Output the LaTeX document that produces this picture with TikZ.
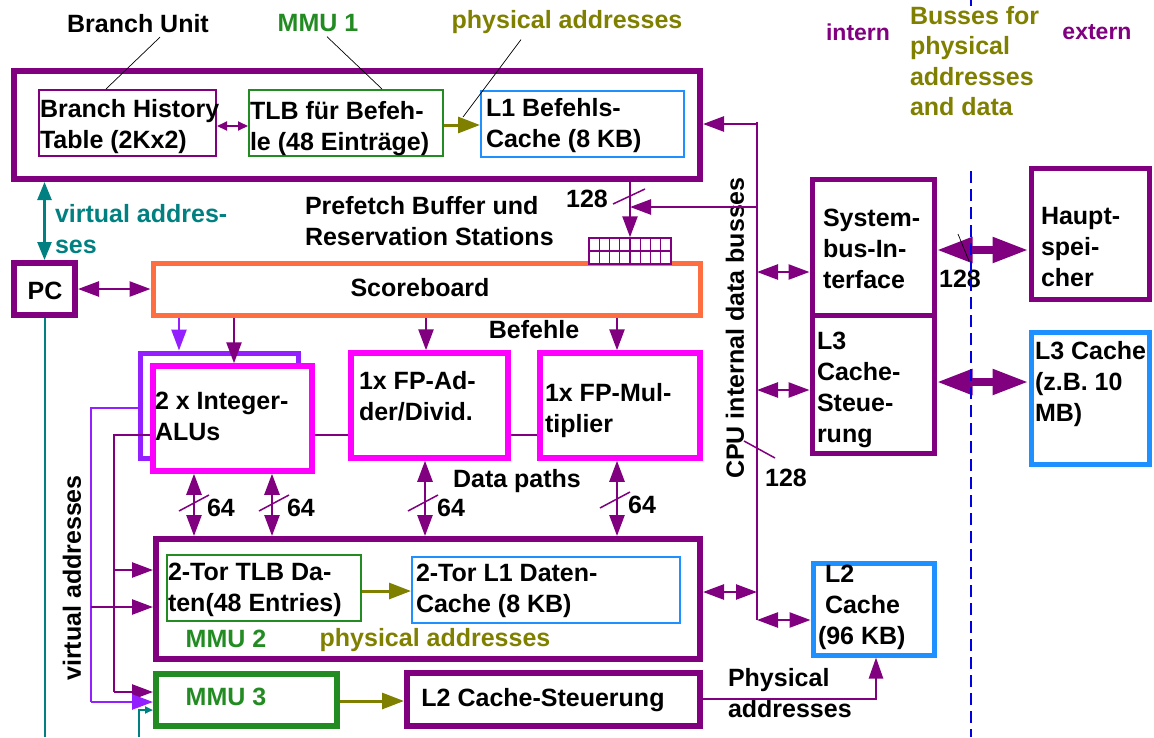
\documentclass[tikz,border=0pt]{standalone}
\usepackage{fontspec}
\setmainfont{Liberation Sans}
\usetikzlibrary{arrows.meta}
\definecolor{pur}{HTML}{800080}
\definecolor{mag}{HTML}{FF00FF}
\definecolor{vio}{HTML}{9420FF}
\definecolor{org}{HTML}{FF6E40}
\definecolor{grn}{HTML}{228B22}
\definecolor{blu}{HTML}{1E90FF}
\definecolor{olv}{HTML}{808000}
\definecolor{tel}{HTML}{008080}
\definecolor{dsh}{HTML}{0000E0}

% frame from line-centre corners: style, x1, y1, x2, y2, name
\newcommand\mkbox[6]{\node[#1, minimum width={#4-#2}, minimum height={#5-#3}] (#6) at ({(#2+#4)/2},{(#3+#5)/2}) {};}

\tikzset{
  lbl/.style={inner sep=0pt, outer sep=0pt},
  blk/.style={inner sep=0pt, outer sep=0pt, align=left, anchor=north west},
  frm/.style={draw, rectangle, inner sep=0pt},
  heavy/.style={frm, line width=5.5pt},
  light/.style={frm, line width=2pt},
  pa/.style={pur, line width=2.5pt, -{Triangle[length=21pt,width=15pt]}},
  pd/.style={pur, line width=2.5pt, {Triangle[length=21pt,width=15pt]}-{Triangle[length=21pt,width=15pt]}},
  va/.style={vio, line width=2.5pt, -{Triangle[length=21pt,width=15pt]}},
  oa/.style={olv, line width=3pt, -{Triangle[length=22pt,width=16pt]}},
  bigd/.style={pur, line width=8pt, {Triangle[length=36pt,width=24pt]}-{Triangle[length=36pt,width=24pt]}},
  wire/.style={pur, line width=2pt},
  vwire/.style={vio, line width=2pt},
  leader/.style={black, line width=0.7pt},
  slash/.style={pur, line width=1.5pt},
}

\begin{document}
\begin{tikzpicture}[x=1pt,y=-1pt,font=\fontsize{25}{31}\selectfont\bfseries]
\fill[white] (0,0) rectangle (1154,737);
\useasboundingbox (0,0) rectangle (1154,737);

% ---------- frames ----------
\mkbox{heavy,draw=pur,line width=6pt}{14}{71}{700}{179}{bu}
\mkbox{light,draw=pur}{39}{90}{216}{156}{bht}
\mkbox{light,draw=grn}{249}{90}{443}{156}{tlbi}
\mkbox{light,draw=blu}{481}{91}{684}{157}{l1i}
\mkbox{heavy,draw=pur,line width=6pt}{14}{263}{75}{315}{pc}
\mkbox{heavy,draw=org,line width=5pt}{153}{263}{700}{315}{sb}
\mkbox{frm,draw=pur,line width=1.5pt,fill=white}{589}{238}{671}{264}{pf}
\mkbox{heavy,draw=vio,line width=5pt}{140}{353}{298}{458}{into}
\mkbox{heavy,draw=mag,fill=white}{153}{366}{312}{471}{inti}
\mkbox{heavy,draw=mag}{351}{353}{508}{458}{fpa}
\mkbox{heavy,draw=mag}{540}{353}{700}{458}{fpm}
\mkbox{heavy,draw=pur,line width=6pt}{156}{539}{700}{659}{dco}
\mkbox{light,draw=grn}{167}{555}{361}{621}{tlbd}
\mkbox{light,draw=blu}{412}{557}{680}{623}{l1d}
\mkbox{heavy,draw=grn,line width=6pt}{156}{674}{337}{726}{mmu3}
\mkbox{heavy,draw=pur,line width=6pt}{407}{673}{700}{726}{l2cs}
\mkbox{heavy,draw=pur,line width=5pt}{812}{179}{934}{315}{sysb}
\mkbox{heavy,draw=pur,line width=5pt}{812}{315}{934}{453}{l3cs}
\mkbox{heavy,draw=pur,line width=5pt}{1031}{168}{1149}{299}{haupt}
\mkbox{heavy,draw=blu,line width=5pt}{1031}{332}{1149}{464}{l3c}
\mkbox{heavy,draw=blu,line width=5pt}{813}{563}{934}{655}{l2c}

% prefetch buffer cells
\draw[pur, line width=1.3pt] (pf.west) -- (pf.east);
\foreach \i in {1,...,7} \draw[pur, line width=1.3pt] ({589+\i*10.25},238) -- ({589+\i*10.25},264);

% ---------- texts ----------
\node[lbl] (tbu) at (138,24) {Branch Unit};
\node[lbl,text=grn] (tmmu1) at (318,23) {MMU 1};
\node[lbl,text=olv] (tphys1) at (567,22) {physical addresses};
\node[lbl,text=pur,font=\fontsize{23}{28}\selectfont\bfseries] (tintern) at (858,32) {intern};
\node[lbl,text=pur,font=\fontsize{23}{28}\selectfont\bfseries] (textern) at (1097,32) {extern};
\node[blk,text=olv,font=\fontsize{25}{30.5}\selectfont\bfseries] (tbus) at (910,6) {Busses for\\physical\\addresses\\and data};

\node[blk] (tbht) at (40,99) {Branch History\\Table (2Kx2)};
\node[blk] (ttlbi) at (250,101) {TLB für Befeh-\\le (48 Einträge)};
\node[blk] (tl1i) at (486,98) {L1 Befehls-\\Cache (8 KB)};
\node[blk,text=tel] (tvirt1) at (55,204) {virtual addres-\\ses};
\node[blk] (tpf) at (305,196) {Prefetch Buffer und\\Reservation Stations};
\node[lbl] (tsb) at (420,288) {Scoreboard};
\node[lbl] (tpc) at (45,291) {PC};
\node[lbl] (tbef) at (534,330) {Befehle};
\node[blk] (tinteger) at (155,392) {2 x Integer-\\ALUs};
\node[blk] (tfpa) at (359,371) {1x FP-Ad-\\der/Divid.};
\node[blk] (tfpm) at (545,383) {1x FP-Mul-\\tiplier};
\node[lbl] (tdp) at (517,481) {Data paths};
\node[lbl] (t64a) at (221,508) {64};
\node[lbl] (t64b) at (301,508) {64};
\node[lbl] (t64c) at (451,508) {64};
\node[lbl] (t64d) at (642,505) {64};
\node[blk] (ttlbd) at (168,563) {2-Tor TLB Da-\\ten(48 Entries)};
\node[blk] (tl1d) at (416,564) {2-Tor L1 Daten-\\Cache (8 KB)};
\node[lbl,text=grn] (tmmu2) at (226,639) {MMU 2};
\node[lbl,text=olv] (tphys2) at (435,640) {physical addresses};
\node[lbl,text=grn] (tmmu3) at (226,697) {MMU 3};
\node[lbl] (tl2cs) at (543,700) {L2 Cache-Steuerung};
\node[blk] (tphys3) at (728,668) {Physical\\addresses};
\node[lbl,rotate=90] (tvirt2) at (72,578) {virtual addresses};
\node[lbl,rotate=90] (tcpu) at (735,328) {CPU internal data busses};
\node[lbl] (t128a) at (587,199) {128};
\node[lbl] (t128b) at (786,478) {128};
\node[lbl] (t128c) at (960,279) {128};
\node[blk] (tsys) at (823,209) {System-\\bus-In-\\terface};
\node[blk] (tl3cs) at (817,332) {L3\\Cache-\\Steue-\\rung};
\node[blk] (thaupt) at (1041,207) {Haupt-\\spei-\\cher};
\node[blk] (tl3c) at (1035,341) {L3 Cache\\(z.B. 10\\MB)};
\node[blk] (tl2c) at (825,565) {L2\\Cache\\\hspace*{-7pt}(96 KB)};

% ---------- leader lines ----------
\draw[leader] (tbu.south) ++(22,4) -- (bht.north -| 106,0);
\draw[leader] (tmmu1.south) ++(9,5) -- (tlbi.north -| 382,0);
\draw[leader] (tphys1.south) ++(-46,6) -- (463,117);

% ---------- instruction side ----------
\draw[pur, line width=2pt, {Triangle[length=10pt,width=9pt]}-{Triangle[length=10pt,width=9pt]}] (bht.east |- 0,126) -- (tlbi.west |- 0,126);
\draw[oa] (tlbi.east |- 0,125) -- (l1i.west |- 0,125);

\coordinate (bustop) at (757,122);
\coordinate (busbot) at (757,620);
\draw[wire] (bustop) -- (busbot);
\draw[pa] (bustop |- 0,124) -- (bu.east |- 0,124);
\draw[pa] (bustop |- 0,207) -- (pf.center |- 0,207);
\draw[pa] (bu.south -| pf.center) -- (pf.north);
\draw[slash] (613,204) -- (645,189);

\draw[tel, line width=2.5pt, {Triangle[length=18pt,width=14pt]}-{Triangle[length=18pt,width=14pt]}] (pc.north) -- (pc.north |- bu.south);
\coordinate (pcfoot) at (44.5,737);
\draw[tel, line width=2pt] (pc.south) -- (pcfoot);
\draw[pd] (pc.east) -- (sb.west);

% ---------- scoreboard to units ----------
\draw[va] (sb.south -| 179,0) -- (into.north -| 179,0);
\draw[pa] (sb.south -| 234,0) -- (inti.north -| 234,0);
\draw[pa] (sb.south -| 426,0) -- (fpa.north -| 426,0);
\draw[pa] (sb.south -| 617,0) -- (fpm.north -| 617,0);
\draw[wire] (inti.east |- 0,435) -- (fpa.west |- 0,435);
\draw[wire] (fpa.east |- 0,435) -- (fpm.west |- 0,435);

% ---------- data paths ----------
\draw[pd] (inti.south -| 194,0) -- (dco.north -| 194,0);
\draw[pd] (inti.south -| 272,0) -- (dco.north -| 272,0);
\draw[pd] (fpa.south -| 425,0) -- (dco.north -| 425,0);
\draw[pd] (fpm.south -| 617,0) -- (dco.north -| 617,0);
\foreach \cx/\cy in {194/503, 274/503, 423/503, 615/500}
  \draw[slash] ({\cx-15},{\cy+8}) -- ({\cx+15},{\cy-8});

% ---------- virtual address lines ----------
\coordinate (vj) at (114,435);
\draw[wire] (inti.west |- vj) -- (vj) -- (vj |- 0,692);
\draw[pa] (vj |- 0,570) -- (dco.west |- 0,570);
\draw[pa] (vj |- 0,692) -- (mmu3.west |- 0,692);
\coordinate (wj) at (91,408);
\draw[vwire] (into.west |- wj) -- (wj) -- (wj |- 0,702);
\draw[va] (wj |- 0,702) -- (mmu3.west |- 0,702);
\draw[pa] (wj |- 0,607) -- (dco.west |- 0,607);
\coordinate (tj) at (139,737);
\draw[tel, line width=2pt, -{Triangle[length=8pt,width=7pt]}] (tj) -- (tj |- 0,710) -- (mmu3.west |- 0,710);

% ---------- data cache ----------
\draw[oa] (tlbd.east |- 0,591) -- (l1d.west |- 0,591);
\draw[pd] (dco.east |- 0,592) -- (busbot |- 0,592);
\draw[pd] (busbot) -- (l2c.west |- busbot);
\draw[oa] (mmu3.east |- 0,701) -- (l2cs.west |- 0,701);
\coordinate (pj) at (876,699);
\draw[pur, line width=2.5pt, -{Triangle[length=21pt,width=14pt]}] (l2cs.east |- pj) -- (pj) -- (l2c.south -| pj);

% ---------- bus to outside ----------
\draw[pd] (busbot |- 0,272) -- (sysb.west |- 0,272);
\draw[pd] (busbot |- 0,390) -- (l3cs.west |- 0,390);
\draw[slash] (744,441) -- (775,458);
\draw[bigd] (sysb.east |- 0,250) -- (haupt.west |- 0,250);
\draw[bigd] (l3cs.east |- 0,382) -- (l3c.west |- 0,382);
\draw[leader] (958,234) -- (969,261);

% separator between internal and external side
\draw[dsh, line width=1.6pt, dash pattern=on 12pt off 6pt] (971,171) -- (971,737);
\draw[dsh, line width=1.6pt] (971,0) -- (971,6);
\end{tikzpicture}
\end{document}
